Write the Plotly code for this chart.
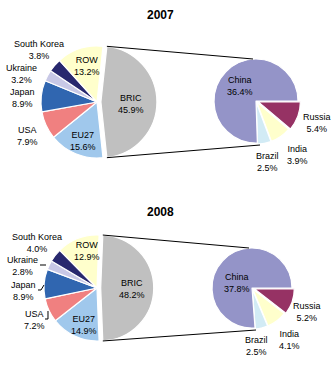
import math
import plotly.graph_objects as go

# ---- data ----
years = ["2007", "2008"]
main_labels = ["BRIC", "EU27", "USA", "Japan", "Ukraine", "South Korea", "ROW"]
main_2007 = [45.9, 15.6, 7.9, 8.9, 3.2, 3.8, 13.2]
main_2008 = [48.2, 14.9, 7.2, 8.9, 2.8, 4.0, 12.9]
bric_labels = ["Russia", "India", "Brazil", "China"]
bric_2007 = [5.4, 3.9, 2.5, 36.4]
bric_2008 = [5.2, 4.1, 2.5, 37.8]

main_colors = ["#C0C0C0", "#A0C8EC", "#F08080", "#3066B0", "#C8C8E6", "#28286E", "#FFFFCC"]
bric_colors = ["#963264", "#FFFFCC", "#D2EBF5", "#9494C8"]

W, H = 336, 368
FONT = "Liberation Sans, Arial, sans-serif"


def px(x):
    return x / W


def py(y):
    return 1 - y / H


def domain(cx, cy, r, pull):
    half = r * (1 + pull)
    return dict(x=[px(cx - half), px(cx + half)], y=[py(cy + half), py(cy - half)])


def label(x, y, text, size=9):
    return dict(x=px(x), y=py(y), xref="paper", yref="paper", text=text,
                showarrow=False, align="center", xanchor="center", yanchor="middle",
                font=dict(family=FONT, size=size, color="black"))


fig = go.Figure()

# layout of each panel (pixel geometry)
panels = [
    dict(year="2007", main=main_2007, bric=bric_2007, title_y=15,
         big=(97, 102, 56), small=(256, 101, 42),
         main_lbl=[(131, 104), (83, 141), (27, 136), (22, 98), (21, 74), (39, 50), (87, 66)],
         bric_lbl=[(317, 123), (297, 155), (267, 162), (240, 86)]),
    dict(year="2008", main=main_2008, bric=bric_2008, title_y=212,
         big=(97, 288, 53), small=(252, 288, 40),
         main_lbl=[(132, 289), (84, 325), (34, 320), (23, 291), (22, 266), (37, 243), (87, 251)],
         bric_lbl=[(307, 312), (289, 340), (256, 346), (237, 283)]),
]

bric_pull = 0.07
small_pulls = [0.06, 0.03, 0.03, 0.0]

annotations = []
shapes = []

for p in panels:
    bx, by, br = p["big"]
    sx, sy, sr = p["small"]
    total = sum(p["main"])
    bric_deg = p["main"][0] / total * 360
    rot = 90 - bric_deg / 2

    fig.add_trace(go.Pie(
        labels=main_labels, values=p["main"], sort=False, direction="clockwise",
        rotation=rot, pull=[bric_pull] + [0] * 6,
        marker=dict(colors=main_colors, line=dict(color="white", width=1.2)),
        textinfo="none", hoverinfo="label+value", showlegend=False,
        domain=domain(bx, by, br, bric_pull),
    ))
    fig.add_trace(go.Pie(
        labels=bric_labels, values=p["bric"], sort=False, direction="clockwise",
        rotation=90, pull=small_pulls,
        marker=dict(colors=bric_colors, line=dict(color="white", width=1.2)),
        textinfo="none", hoverinfo="label+value", showlegend=False,
        domain=domain(sx, sy, sr, max(small_pulls)),
    ))

    # year title
    annotations.append(label(160, p["title_y"], "<b>%s</b>" % p["year"], size=12))

    # slice labels
    for lab, val, (lx, ly) in zip(main_labels, p["main"], p["main_lbl"]):
        annotations.append(label(lx, ly, "%s<br>%.1f%%" % (lab, val)))
    for lab, val, (lx, ly) in zip(bric_labels, p["bric"], p["bric_lbl"]):
        annotations.append(label(lx, ly, "%s<br>%.1f%%" % (lab, val)))

    # connector lines from the BRIC slice edges to the breakdown pie
    off = br * bric_pull
    a0 = math.radians(rot)
    a1 = math.radians(rot + bric_deg)
    top = (bx + off + br * math.sin(a0), by - br * math.cos(a0))
    bot = (bx + off + br * math.sin(a1), by - br * math.cos(a1))
    for (x0, y0), (x1, y1) in [(top, (sx - 3, sy - sr)), (bot, (sx + 4, sy + sr + 2))]:
        shapes.append(dict(type="line", xref="paper", yref="paper",
                           x0=px(x0), y0=py(y0), x1=px(x1), y1=py(y1),
                           line=dict(color="black", width=1)))

# small leader ticks next to the 2008 outside labels
for seg in [[(40, 265), (46, 265)],
            [(38, 290), (41, 290), (44, 285)],
            [(45, 319), (48, 319), (48, 311)]]:
    path = "M " + " L ".join("%f,%f" % (px(x), py(y)) for x, y in seg)
    shapes.append(dict(type="path", xref="paper", yref="paper", path=path,
                       line=dict(color="black", width=1)))

fig.update_layout(
    width=W, height=H, margin=dict(l=0, r=0, t=0, b=0),
    paper_bgcolor="white", plot_bgcolor="white",
    annotations=annotations, shapes=shapes,
)

fig.write_html("out.html")
